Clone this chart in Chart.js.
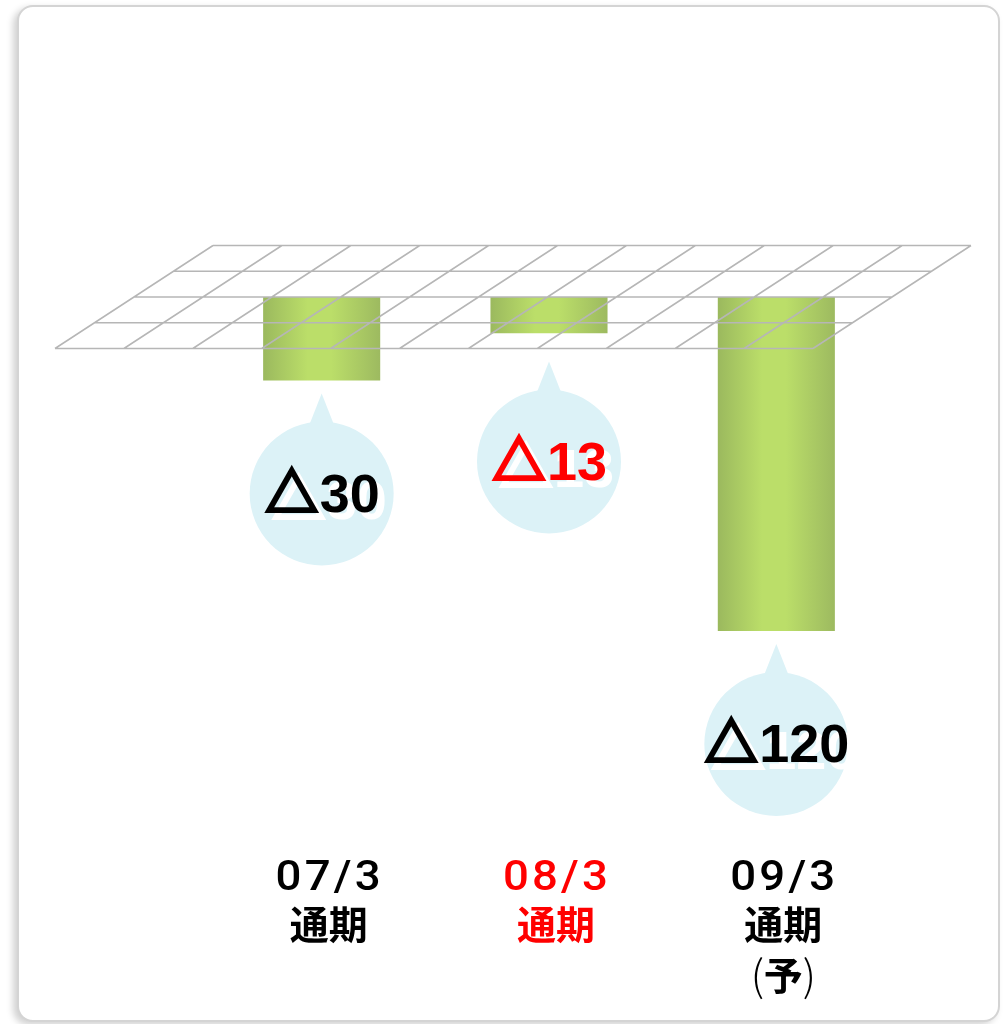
<!DOCTYPE html>
<html>
<head>
<meta charset="utf-8">
<script src="https://cdn.jsdelivr.net/npm/chart.js@4/dist/chart.umd.min.js"></script>
<style>
  html, body { margin: 0; padding: 0; background: #ffffff; }
  #wrap { position: relative; width: 1004px; height: 1024px; overflow: hidden; }
  #card {
    position: absolute; left: 17px; top: 5px; width: 983px; height: 1017px;
    box-sizing: border-box; border: 2px solid #d4d4d4; border-radius: 16px;
    background: #ffffff; box-shadow: -4px 3px 7px rgba(0,0,0,0.18);
  }
  #chart { position: absolute; left: 0; top: 0; }
</style>
</head>
<body>
<div id="wrap">
  <div id="card"></div>
  <canvas id="chart" width="1004" height="1024"></canvas>
</div>
<script>
// Fiscal periods (each entry = lines of the axis label)
const categories = [
  ['07/3', '通期'],
  ['08/3', '通期'],
  ['09/3', '通期', '(予)']
];
// Results per period (negative = loss)
const values = [-30, -13, -120];
// Text shown inside the callout bubbles
const valueLabels = ['△30', '△13', '△120'];
// Colour of each period's text
const textColors = ['#000000', '#ff0000', '#000000'];

const BAR_PCT = 0.515;

function barGradient(context) {
  const chart = context.chart;
  const area = chart.chartArea;
  if (!area) return '#b0d066';
  const xs = chart.scales.x;
  const cx = xs.getPixelForValue(context.dataIndex);
  const w = (area.width / categories.length) * BAR_PCT;
  const g = chart.ctx.createLinearGradient(cx - w / 2, 0, cx + w / 2, 0);
  g.addColorStop(0, '#9bb95e');
  g.addColorStop(0.38, '#bbde69');
  g.addColorStop(0.58, '#bbde69');
  g.addColorStop(1, '#9dba60');
  return g;
}

// Perspective floor grid drawn over the tops of the bars
const floorGrid = {
  id: 'floorGrid',
  afterDatasetsDraw(chart) {
    const ctx = chart.ctx;
    const area = chart.chartArea;
    const y0 = chart.scales.y.getPixelForValue(0);
    const rows = 4, cols = 11;
    const halfDepth = 51.5;
    const shift = 158;            // horizontal offset between front and back edges
    const frontLeft = area.left - 153;
    const width = 758;
    const yBack = y0 - halfDepth, yFront = y0 + halfDepth;
    ctx.save();
    ctx.strokeStyle = '#b6b6b6';
    ctx.lineWidth = 1.5;
    ctx.beginPath();
    for (let r = 0; r <= rows; r++) {
      const t = r / rows;
      const y = yBack + (yFront - yBack) * t;
      const xl = frontLeft + shift * (1 - t);
      ctx.moveTo(xl, y);
      ctx.lineTo(xl + width, y);
    }
    for (let c = 0; c <= cols; c++) {
      const xf = frontLeft + width * c / cols;
      ctx.moveTo(xf, yFront);
      ctx.lineTo(xf + shift, yBack);
    }
    ctx.stroke();
    ctx.restore();
  }
};

// Draws "△" + number: the triangle glyph gets a heavier outline
function drawValueText(ctx, text, cx, baseY, color) {
  const triFont = 'bold 52px "Noto Sans CJK JP", sans-serif';
  const numFont = 'bold 54px "Liberation Sans", sans-serif';
  const hasTri = text.charAt(0) === '△';
  const num = hasTri ? text.slice(1) : text;
  ctx.font = triFont;
  const triW = hasTri ? ctx.measureText('△').width : 0;
  ctx.font = numFont;
  const numW = ctx.measureText(num).width;
  const gap = hasTri ? 2 : 0;
  const total = triW + gap + numW;
  const left = cx - total / 2;
  ctx.textAlign = 'left';
  ctx.textBaseline = 'alphabetic';
  ctx.lineJoin = 'miter';
  const pass = (dx, dy, col) => {
    ctx.fillStyle = col;
    ctx.strokeStyle = col;
    if (hasTri) {
      ctx.font = triFont;
      ctx.lineWidth = 3.5;
      ctx.fillText('△', left + dx, baseY + dy);
      ctx.strokeText('△', left + dx, baseY + dy);
    }
    ctx.font = numFont;
    ctx.fillText(num, left + triW + gap + dx, baseY + dy);
  };
  pass(7, 7, '#ffffff');
  pass(0, 0, color);
}

// Callout bubbles under each bar with the value text
const callouts = {
  id: 'callouts',
  afterDraw(chart) {
    const ctx = chart.ctx;
    const meta = chart.getDatasetMeta(0);
    const y0 = chart.scales.y.getPixelForValue(0);
    const floorFront = y0 + 51.5;
    meta.data.forEach((bar, i) => {
      const cx = bar.x;
      const bottom = Math.max(bar.y, bar.base);
      const tipY = Math.max(bottom, floorFront) + 13;
      const cy = tipY + 100;
      const r = 72;
      ctx.save();
      ctx.fillStyle = '#dcf2f7';
      ctx.beginPath();
      ctx.arc(cx, cy, r, 0, Math.PI * 2);
      ctx.fill();
      ctx.beginPath();
      ctx.moveTo(cx - 13, tipY + 33);
      ctx.lineTo(cx, tipY);
      ctx.lineTo(cx + 13, tipY + 33);
      ctx.closePath();
      ctx.fill();
      drawValueText(ctx, valueLabels[i], cx + 1, cy + 18, textColors[i]);
      ctx.restore();
    });
  }
};

// Period labels below the plot
const periodLabels = {
  id: 'periodLabels',
  afterDraw(chart) {
    const ctx = chart.ctx;
    const xs = chart.scales.x;
    const lineY = [878, 924, 975];
    ctx.save();
    ctx.textBaseline = 'middle';
    categories.forEach((lines, i) => {
      const x = xs.getPixelForValue(i) + 7;
      ctx.fillStyle = textColors[i];
      lines.forEach((txt, k) => {
        if (k === 0) {
          // period code, medium weight with open tracking
          ctx.save();
          ctx.translate(x + 1, lineY[k] + 1);
          ctx.scale(1.06, 1);
          ctx.font = '500 43px Roboto, sans-serif';
          ctx.letterSpacing = '3px';
          ctx.textAlign = 'center';
          ctx.fillText(txt, 0, 0);
          ctx.restore();
        } else if (txt.startsWith('(')) {
          // bracketed note: light brackets around a bold character
          const inner = txt.slice(1, -1);
          ctx.textAlign = 'center';
          ctx.font = 'bold 39px "Noto Sans CJK JP", sans-serif';
          ctx.fillText(inner, x, lineY[k]);
          ctx.font = '300 42px "Noto Sans CJK JP", sans-serif';
          ctx.fillText('(', x - 26, lineY[k]);
          ctx.fillText(')', x + 26, lineY[k]);
        } else {
          ctx.textAlign = 'center';
          ctx.font = 'bold 39px "Noto Sans CJK JP", sans-serif';
          ctx.fillText(txt, x, lineY[k]);
        }
      });
    });
    ctx.restore();
  }
};

new Chart(document.getElementById('chart'), {
  type: 'bar',
  data: {
    labels: categories.map(c => c.join(' ')),
    datasets: [{
      data: values,
      backgroundColor: barGradient,
      borderWidth: 0,
      barPercentage: BAR_PCT,
      categoryPercentage: 1
    }]
  },
  options: {
    responsive: false,
    animation: false,
    events: [],
    layout: { padding: { left: 208, right: 114, top: 297, bottom: 393 } },
    plugins: { legend: { display: false }, tooltip: { enabled: false } },
    scales: {
      x: { display: false },
      y: { display: false, min: -120, max: 0 }
    }
  },
  plugins: [floorGrid, callouts, periodLabels]
});
</script>
</body>
</html>
